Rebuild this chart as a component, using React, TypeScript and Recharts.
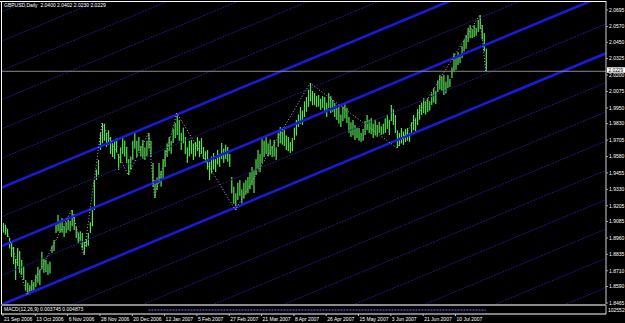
import React from 'react';
import { ComposedChart, Bar, Line, XAxis, YAxis, ReferenceLine } from 'recharts';

// Daily bar highs / lows (GBPUSD), index 0 = 21 Sep 2006
const highs = [
  1.9074,1.9060,1.9030,1.8960,1.8922,1.8892,1.8800,1.8884,1.8860,1.8793,
  1.8740,1.8640,1.8620,1.8600,1.8640,1.8620,1.8680,1.8740,1.8720,1.8854,
  1.8800,1.8793,1.8760,1.8780,1.8900,1.8945,1.9060,1.9135,1.9090,1.9112,
  1.9050,1.9080,1.9120,1.9090,1.9173,1.9140,1.9044,1.9000,1.9010,1.8998,
  1.8930,1.8950,1.8998,1.9080,1.9173,1.9401,1.9480,1.9554,1.9760,1.9835,
  1.9830,1.9760,1.9780,1.9729,1.9680,1.9700,1.9721,1.9600,1.9650,1.9721,
  1.9700,1.9653,1.9560,1.9580,1.9700,1.9759,1.9700,1.9729,1.9660,1.9706,
  1.9650,1.9700,1.9759,1.9700,1.9531,1.9400,1.9420,1.9531,1.9470,1.9560,
  1.9630,1.9680,1.9729,1.9700,1.9790,1.9835,1.9911,1.9858,1.9760,1.9800,
  1.9729,1.9650,1.9700,1.9706,1.9680,1.9690,1.9729,1.9700,1.9720,1.9653,
  1.9620,1.9630,1.9540,1.9580,1.9607,1.9560,1.9630,1.9600,1.9683,1.9640,
  1.9670,1.9653,1.9600,1.9424,1.9350,1.9300,1.9380,1.9401,1.9330,1.9380,
  1.9400,1.9424,1.9460,1.9500,1.9480,1.9560,1.9630,1.9600,1.9721,1.9700,
  1.9729,1.9680,1.9710,1.9660,1.9706,1.9650,1.9760,1.9805,1.9770,1.9782,
  1.9740,1.9729,1.9690,1.9720,1.9800,1.9858,1.9900,1.9957,1.9930,2.0000,
  2.0033,2.0090,2.0139,2.0080,2.0063,2.0040,2.0048,2.0020,2.0040,2.0033,
  1.9990,2.0063,2.0040,2.0010,1.9987,1.9950,1.9957,1.9900,1.9960,1.9995,
  1.9950,1.9881,1.9840,1.9858,1.9820,1.9800,1.9797,1.9760,1.9790,1.9850,
  1.9896,1.9860,1.9873,1.9830,1.9860,1.9820,1.9843,1.9810,1.9830,1.9870,
  1.9896,1.9860,1.9972,1.9940,1.9896,1.9780,1.9760,1.9797,1.9770,1.9790,
  1.9797,1.9760,1.9840,1.9896,1.9870,1.9940,1.9972,1.9990,2.0025,2.0000,
  2.0025,2.0000,2.0060,2.0101,2.0080,2.0160,2.0200,2.0190,2.0200,2.0150,
  2.0200,2.0170,2.0260,2.0368,2.0330,2.0375,2.0340,2.0420,2.0470,2.0505,
  2.0560,2.0581,2.0550,2.0581,2.0560,2.0620,2.0657,2.0581,2.0520,2.0402,
];
const lows = [
  1.9000,1.8985,1.8967,1.8880,1.8815,1.8760,1.8640,1.8750,1.8694,1.8680,
  1.8640,1.8560,1.8526,1.8530,1.8541,1.8550,1.8587,1.8620,1.8600,1.8720,
  1.8694,1.8700,1.8678,1.8690,1.8846,1.8860,1.8998,1.9010,1.9000,1.9000,
  1.8967,1.8998,1.9020,1.9010,1.9050,1.9021,1.8960,1.8922,1.8940,1.8880,
  1.8831,1.8892,1.8900,1.8998,1.9050,1.9173,1.9401,1.9440,1.9630,1.9680,
  1.9700,1.9653,1.9670,1.9600,1.9576,1.9560,1.9610,1.9477,1.9531,1.9600,
  1.9580,1.9530,1.9439,1.9480,1.9554,1.9640,1.9576,1.9620,1.9580,1.9560,
  1.9554,1.9580,1.9640,1.9576,1.9350,1.9264,1.9325,1.9380,1.9350,1.9401,
  1.9500,1.9576,1.9620,1.9600,1.9683,1.9720,1.9744,1.9700,1.9630,1.9680,
  1.9600,1.9531,1.9580,1.9600,1.9554,1.9580,1.9620,1.9576,1.9600,1.9560,
  1.9531,1.9480,1.9401,1.9450,1.9480,1.9462,1.9520,1.9501,1.9560,1.9531,
  1.9560,1.9540,1.9501,1.9300,1.9220,1.9173,1.9249,1.9280,1.9211,1.9260,
  1.9290,1.9300,1.9330,1.9360,1.9302,1.9439,1.9480,1.9460,1.9531,1.9576,
  1.9600,1.9580,1.9590,1.9576,1.9580,1.9554,1.9653,1.9680,1.9670,1.9660,
  1.9630,1.9620,1.9607,1.9620,1.9706,1.9740,1.9805,1.9830,1.9820,1.9881,
  1.9920,1.9957,2.0000,1.9970,1.9970,1.9957,1.9960,1.9934,1.9950,1.9920,
  1.9881,1.9950,1.9911,1.9920,1.9880,1.9858,1.9830,1.9805,1.9850,1.9870,
  1.9835,1.9760,1.9729,1.9740,1.9706,1.9720,1.9700,1.9691,1.9700,1.9744,
  1.9780,1.9760,1.9750,1.9721,1.9740,1.9730,1.9760,1.9744,1.9750,1.9760,
  1.9790,1.9744,1.9850,1.9820,1.9760,1.9645,1.9660,1.9680,1.9668,1.9690,
  1.9700,1.9691,1.9744,1.9780,1.9760,1.9820,1.9860,1.9896,1.9910,1.9900,
  1.9919,1.9930,1.9972,1.9990,1.9980,2.0071,2.0090,2.0080,2.0048,2.0060,
  2.0101,2.0110,2.0177,2.0230,2.0240,2.0276,2.0290,2.0330,2.0380,2.0400,
  2.0452,2.0480,2.0482,2.0490,2.0500,2.0528,2.0550,2.0470,2.0380,2.0229,
];

// ZigZag swing points
const zzIdx = [1, 12, 34, 40, 49, 62, 72, 75, 86, 115, 152, 195, 236, 239];
const zzPrice = [1.9060, 1.8526, 1.9173, 1.8831, 1.9835, 1.9439, 1.9759, 1.9264, 1.9911, 1.9173, 2.0139, 1.9645, 2.0657, 2.0229];

// Channel (parallel lines)
const channelBase = 1.8902; // middle line price at bar 0
const channelSlope = 0.00064; // per bar
const channelHalfStep = 0.0223;
const thickSteps = [-2, 0, 2];
const faintSteps = [-10, -9, -8, -7, -6, -5, -4, -3, -1, 1, 3, 4, 5, 6, 7, 8];

const priceTicks = [2.0695, 2.057, 2.045, 2.0325, 2.02, 2.0075, 1.995, 1.983, 1.9705, 1.958, 1.9455, 1.933, 1.9205, 1.9085, 1.896, 1.8835, 1.871, 1.859, 1.8465];
const dateTickIdx = [0, 16, 32, 48, 64, 80, 96, 112, 128, 144, 160, 176, 192, 208, 224];
const dateLabels = ['21 Sep 2006', '13 Oct 2006', '6 Nov 2006', '28 Nov 2006', '20 Dec 2006', '12 Jan 2007', '5 Feb 2007', '27 Feb 2007', '21 Mar 2007', '8 Apr 2007', '26 Apr 2007', '15 May 2007', '3 Jun 2007', '21 Jun 2007', '10 Jul 2007'];

const bidPrice = 2.0229;
const headerText = 'GBPUSD,Daily  2.0400 2.0402 2.0230 2.0229';
const subLabel = 'MACD(12,26,9) 0.003745 0.004873';
const subScale = '102552';

const X_DOMAIN: [number, number] = [-1, 298.5];
const Y_DOMAIN: [number, number] = [1.8457, 2.0764];
const FONT = '"Liberation Sans", Arial, sans-serif';

const zzMap: Record<number, number> = {};
zzIdx.forEach((ix, k) => { zzMap[ix] = zzPrice[k]; });

const rows = highs.map((h, i) => ({
  i,
  range: [lows[i], h],
  zz: zzMap[i] !== undefined ? zzMap[i] : null,
}));

const subRows = rows.map((r) => ({ i: r.i, v: 0.5 }));

const chanLine = (k: number) => [
  { x: X_DOMAIN[0], y: channelBase + k * channelHalfStep + channelSlope * X_DOMAIN[0] },
  { x: X_DOMAIN[1], y: channelBase + k * channelHalfStep + channelSlope * X_DOMAIN[1] },
];

const BarShape = (p: any) => {
  if (p.x == null || p.height == null) return null;
  const cx = p.x + p.width / 2;
  const y = Math.min(p.y, p.y + p.height);
  const h = Math.max(1, Math.abs(p.height));
  return <rect x={cx - 0.6} y={y} width={1.2} height={h} fill="#55e455" />;
};

const PriceTick = (p: any) => (
  <text x={p.x + 1} y={p.y + 1.8} fontSize={5} fill="#ffffff" fontFamily={FONT} textAnchor="start">
    {Number(p.payload.value).toFixed(4)}
  </text>
);

const DateTick = (p: any) => {
  const idx = dateTickIdx.indexOf(p.payload.value);
  return (
    <text x={p.x + 1} y={p.y + 5} fontSize={5} fill="#ffffff" fontFamily={FONT} textAnchor="start">
      {idx >= 0 ? dateLabels[idx] : ''}
    </text>
  );
};

const BidLabel = (p: any) => {
  const vb = p.viewBox || {};
  const right = (vb.x || 0) + (vb.width || 0);
  const y = vb.y || 0;
  return (
    <g>
      <rect x={right + 1} y={y - 4} width={18} height={5.5} fill="#ffffff" />
      <text x={right + 2.5} y={y + 0.6} fontSize={4.8} fill="#000000" fontFamily={FONT}>
        {bidPrice.toFixed(4)}
      </text>
    </g>
  );
};

export default function App() {
  return (
    <div style={{ position: 'absolute', left: 0, top: 0, width: 625, height: 323, background: '#000', overflow: 'hidden' }}>
      <div style={{ position: 'absolute', left: 0, top: 0 }}>
        <ComposedChart width={625} height={305} data={rows} margin={{ top: 1, right: 0, bottom: 1, left: 1 }}>
          <XAxis dataKey="i" type="number" domain={X_DOMAIN} allowDataOverflow hide />
          <YAxis
            orientation="right"
            type="number"
            domain={Y_DOMAIN}
            allowDataOverflow
            ticks={priceTicks}
            interval={0}
            width={19}
            tickSize={2}
            tickMargin={0}
            tick={<PriceTick />}
            tickLine={{ stroke: '#a0a0a0' }}
            axisLine={{ stroke: '#d0d0d0' }}
          />
          {faintSteps.map((k) => (
            <ReferenceLine key={'f' + k} segment={chanLine(k)} stroke="#1c1c86" strokeWidth={1} strokeDasharray="2 1" ifOverflow="hidden" />
          ))}
          {thickSteps.map((k) => (
            <ReferenceLine key={'t' + k} segment={chanLine(k)} stroke="#1a1ada" strokeWidth={2.6} ifOverflow="hidden" />
          ))}
          <ReferenceLine y={bidPrice} stroke="#8a8a8a" strokeWidth={1} ifOverflow="hidden" label={<BidLabel />} />
          <Bar dataKey="range" barSize={1} shape={<BarShape />} isAnimationActive={false} />
          <Line dataKey="zz" type="linear" stroke="#b0b0b0" strokeWidth={1} strokeDasharray="1 2" dot={false} connectNulls isAnimationActive={false} />
        </ComposedChart>
      </div>
      <div style={{ position: 'absolute', left: 0, top: 305 }}>
        <ComposedChart width={625} height={18} data={subRows} margin={{ top: 0, right: 0, bottom: 0, left: 1 }}>
          <XAxis
            dataKey="i"
            type="number"
            domain={X_DOMAIN}
            allowDataOverflow
            ticks={dateTickIdx}
            interval={0}
            height={9}
            tickSize={2}
            tickMargin={0}
            tick={<DateTick />}
            tickLine={{ stroke: '#c0c0c0' }}
            axisLine={{ stroke: '#ffffff' }}
          />
          <YAxis orientation="right" type="number" domain={[0, 1]} width={19} tick={false} tickLine={false} axisLine={{ stroke: '#d0d0d0' }} />
          <ReferenceLine segment={[{ x: 72, y: 0.45 }, { x: 239, y: 0.45 }]} stroke="#5a44b0" strokeWidth={1.5} strokeDasharray="2 1" ifOverflow="hidden" />
          <Line dataKey="v" stroke="none" dot={false} isAnimationActive={false} />
        </ComposedChart>
      </div>
      <div style={{ position: 'absolute', left: 0, top: 1, width: 606, height: 1, background: '#ffffff' }} />
      <div style={{ position: 'absolute', left: 1, top: 1, width: 1, height: 313, background: '#ffffff' }} />
      <div style={{ position: 'absolute', left: 1, top: 304, width: 605, height: 2, background: '#8a8a8a' }} />
      <div style={{ position: 'absolute', left: 4, top: 2, color: '#fff', fontFamily: FONT, fontSize: 5, lineHeight: '6px', whiteSpace: 'pre' }}>{headerText}</div>
      <div style={{ position: 'absolute', left: 4, top: 306, color: '#fff', fontFamily: FONT, fontSize: 5, lineHeight: '6px', whiteSpace: 'pre' }}>{subLabel}</div>
      <div style={{ position: 'absolute', left: 608, top: 307, color: '#fff', fontFamily: FONT, fontSize: 5, lineHeight: '6px', whiteSpace: 'pre' }}>{subScale}</div>
    </div>
  );
}
